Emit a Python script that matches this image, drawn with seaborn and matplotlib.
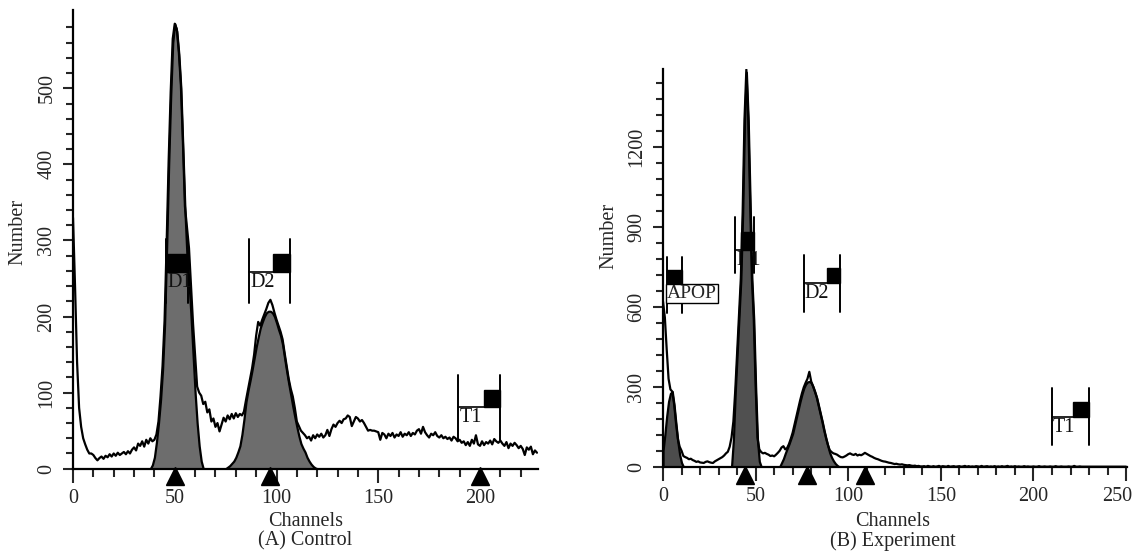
import numpy as np
import pandas as pd
import matplotlib
matplotlib.use("Agg")
import matplotlib.pyplot as plt
import matplotlib.transforms as mtransforms
from matplotlib.patches import Rectangle
from matplotlib.ticker import MultipleLocator, FixedLocator
import seaborn as sns

sns.set_style("white")
plt.rcParams["font.family"] = ["Liberation Serif", "DejaVu Serif"]

# ---------------- data: (A) Control ----------------
ctrl_raw = [
    330, 240, 140, 80, 55, 40, 32, 25, 20, 20,
    18, 14, 11, 14, 16, 13, 17, 15, 19, 16,
    20, 17, 21, 18, 20, 22, 19, 23, 20, 25,
    28, 24, 33, 30, 36, 29, 38, 33, 40, 36,
    38, 45, 62, 95, 135, 195, 295, 405, 495, 565,
    585, 578, 548, 505, 430, 345, 318, 290, 240, 190,
    150, 108, 100, 96, 85, 88, 74, 78, 62, 66,
    55, 60, 49, 58, 67, 62, 70, 65, 72, 66,
    73, 68, 72, 70, 75, 90, 104, 118, 132, 150,
    175, 193, 188, 196, 203, 210, 218, 222, 215, 205,
    196, 188, 180, 170, 152, 135, 118, 105, 95, 80,
    62, 56, 50, 47, 44, 40, 42, 37, 44, 40,
    45, 42, 46, 41, 44, 51, 43, 52, 58, 55,
    60, 63, 60, 65, 66, 70, 68, 56, 62, 68,
    66, 62, 64, 60, 55, 50, 51, 50, 50, 49,
    48, 38, 47, 45, 40, 46, 43, 47, 41, 45,
    43, 48, 42, 46, 44, 48, 43, 47, 45, 50,
    52, 46, 55, 48, 44, 41, 46, 44, 48, 43,
    41, 44, 40, 42, 39, 41, 37, 42, 40, 36,
    38, 34, 36, 31, 35, 30, 38, 33, 44, 32,
    30, 36, 31, 35, 33, 37, 32, 39, 36, 34,
    37, 33, 30, 35, 27, 33, 30, 34, 31, 27,
    30, 26, 18, 28, 25, 29, 19, 24, 21,
]
ctrl_g1_start = 38
ctrl_g1_fill = [0, 5, 15, 35, 60, 90, 130, 190, 290, 400, 490, 560, 585, 575,
                545, 500, 420, 340, 280, 245, 200, 150, 100, 60, 30, 10, 0]
ctrl_g2_start = 75
ctrl_g2_fill = [0, 2, 4, 7, 10, 15, 22, 30, 45, 65, 88, 103, 116, 130, 145, 160,
                173, 185, 193, 200, 205, 207, 207, 205, 200, 192, 183, 175, 163,
                145, 128, 112, 97, 82, 68, 55, 43, 33, 27, 22, 15, 10, 6, 3, 1, 0]
ctrl_peak_marks = [50, 97, 200]
ctrl_yticks = [0, 100, 200, 300, 400, 500]
ctrl_yminor_top = 580
ctrl_gate_names = ["D1", "D2", "T1"]
ctrl_gate_lo = [45.7, 86.6, 189.3]
ctrl_gate_hi = [56.5, 106.6, 209.8]
ctrl_gate_bottom = [218, 218, 38]
ctrl_gate_top = [302, 302, 123]
ctrl_gate_bar = [259, 259, 81]
ctrl_gate_box_top = [282, 282, 103]
ctrl_gate_box_lo = [45.7, 98.1, 202.0]

# ---------------- data: (B) Experiment ----------------
exp_raw = [
    620, 560, 440, 330, 290, 282, 235, 165, 105, 75,
    60, 40, 36, 33, 28, 30, 25, 22, 18, 20,
    16, 15, 14, 18, 20, 17, 15, 14, 20, 24,
    28, 32, 36, 42, 50, 56, 75, 110, 170, 285,
    425, 565, 705, 955, 1305, 1490, 1310, 1005, 705, 555,
    305, 110, 65, 55, 50, 52, 48, 45, 40, 42,
    39, 45, 52, 60, 72, 77, 65, 70, 85, 105,
    128, 158, 188, 218, 248, 275, 298, 315, 330, 356,
    320, 302, 282, 260, 230, 200, 170, 137, 108, 82,
    62, 55, 50, 48, 45, 40, 36, 35, 38, 42,
    47, 50, 46, 44, 48, 42, 45, 43, 47, 52,
    48, 44, 40, 37, 33, 30, 28, 25, 22, 20,
    19, 17, 15, 14, 12, 10, 11, 9, 8, 9,
    7, 6, 5, 6, 4, 3, 4, 2, 3, 1,
    1, 2, 0, 3, 1, 0, 2, 0, 1, 3,
    0, 2, 1, 0, 3, 0, 1, 2, 0, 1,
    2, 0, 1, 3, 0, 2, 0, 1, 0, 2,
    1, 0, 3, 0, 1, 2, 0, 1, 0, 2,
    0, 1, 0, 2, 0, 1, 3, 0, 1, 0,
    2, 0, 1, 0, 0, 2, 0, 1, 0, 0,
    1, 0, 0, 2, 0, 0, 1, 0, 0, 1,
    0, 0, 2, 0, 0, 1, 0, 0, 0, 1,
    0, 0, 3, 0, 0, 1, 0, 0, 0, 0,
    0, 0, 0, 0, 0, 0, 0, 0, 0, 0,
    0, 0, 0, 0, 0, 0, 0, 0, 0, 0,
    0,
]
exp_apop_start = 0
exp_apop_fill = [60, 120, 190, 245, 275, 282, 230, 160, 95, 45, 15, 0]
exp_g1_start = 37
exp_g1_fill = [0, 100, 280, 420, 560, 700, 950, 1300, 1480, 1300, 1000, 700,
               550, 300, 100, 20, 0]
exp_g2_start = 63
exp_g2_fill = [0, 15, 30, 50, 68, 85, 105, 125, 155, 185, 215, 245, 272, 295,
               310, 318, 320, 315, 300, 280, 258, 228, 198, 168, 135, 105, 78,
               52, 35, 22, 12, 5, 0]
exp_peak_marks = [44, 78, 109]
exp_yticks = [0, 300, 600, 900, 1200]
exp_yminor_top = 1440
exp_gate_names = ["APOP", "D1", "D2", "T1"]
exp_gate_lo = [2.0, 38.8, 76.0, 209.9]
exp_gate_hi = [10.1, 49.0, 95.4, 230.2]
exp_gate_bottom = [575, 725, 581, 81]
exp_gate_top = [787, 937, 794, 294]
exp_gate_bar = [681, 812, 688, 187]
exp_gate_box_top = [737, 881, 744, 244]
exp_gate_box_lo = [2.0, 41.9, 88.4, 221.6]

W, H = 1136, 556
fig = plt.figure(figsize=(W / 100, H / 100), dpi=100)


def fx(px):
    return px / W


def fy(py):
    return 1 - py / H


axA = fig.add_axes([fx(73), fy(468.7), fx(538) - fx(73), fy(10) - fy(468.7)])
axB = fig.add_axes([fx(663), fy(466.7), fx(1127) - fx(663), fy(69) - fy(466.7)])

TICK_FS = 14.5
LAB_FS = 14.5


def draw_fill(ax, start, vals, color):
    ch = np.arange(start, start + len(vals))
    ax.fill_between(ch, 0, vals, facecolor=color, edgecolor="black",
                    linewidth=1.6, zorder=2)


def draw_gates(ax, names, lo, hi, bottom, top, bar, box_top, box_lo, tz):
    for n, a, b, y0, y1, yb, yt, bl in zip(names, lo, hi, bottom, top, bar,
                                           box_top, box_lo):
        ax.plot([a, a], [y0, y1], color="black", lw=1.4, zorder=4)
        ax.plot([b, b], [y0, y1], color="black", lw=1.4, zorder=4)
        ax.plot([a, b], [yb, yb], color="black", lw=1.2, zorder=4)
        ax.add_patch(Rectangle((bl, yb), b - bl, yt - yb, facecolor="black",
                               edgecolor="black", zorder=4))
        if n == "APOP":
            ax.text(a + 0.3, yb, n, fontsize=LAB_FS - 0.5, va="top", ha="left",
                    zorder=5,
                    bbox=dict(boxstyle="square,pad=0.05", facecolor="white",
                              edgecolor="black", linewidth=1.0))
        else:
            ax.text(a + 0.6, yb - (y1 - y0) * 0.02, n, fontsize=LAB_FS,
                    va="top", ha="left", zorder=(tz if n == "D1" else 5),
                    color="#111111")


def style_axes(ax, xmax, ymax, xmajor, yticks, yminor, yminor_top, tri_y,
               marks):
    ax.set_xlim(0, xmax)
    ax.set_ylim(0, ymax)
    for s in ["top", "right"]:
        ax.spines[s].set_visible(False)
    for s in ["left", "bottom"]:
        ax.spines[s].set_linewidth(1.6)
        ax.spines[s].set_color("black")
    ax.xaxis.set_major_locator(MultipleLocator(xmajor))
    ax.xaxis.set_minor_locator(MultipleLocator(10))
    ax.yaxis.set_major_locator(FixedLocator(yticks))
    ax.yaxis.set_minor_locator(FixedLocator(np.arange(0, yminor_top + 1, yminor)))
    ax.tick_params(axis="x", which="major", direction="out", length=10,
                   width=1.5, pad=4.5, labelsize=TICK_FS, bottom=True)
    ax.tick_params(axis="x", which="minor", direction="out", length=6,
                   width=1.5, bottom=True)
    ax.tick_params(axis="y", which="major", direction="out", length=7,
                   width=1.5, pad=5, labelsize=TICK_FS, left=True)
    ax.tick_params(axis="y", which="minor", direction="out", length=5,
                   width=1.5, left=True)
    for lab in ax.get_yticklabels():
        lab.set_rotation(90)
        lab.set_va("center")
    ax.set_xlabel("")
    ax.set_ylabel("")
    trans = mtransforms.blended_transform_factory(ax.transData, ax.transAxes)
    ax.plot(marks, [tri_y] * len(marks), marker="^", markersize=13,
            color="black", linestyle="none", transform=trans, clip_on=False,
            zorder=6)


# ---- Panel A ----
dfA = pd.DataFrame({"Channels": np.arange(len(ctrl_raw)), "Number": ctrl_raw})
draw_fill(axA, ctrl_g1_start, ctrl_g1_fill, "#6d6d6d")
draw_fill(axA, ctrl_g2_start, ctrl_g2_fill, "#6d6d6d")
draw_gates(axA, ctrl_gate_names, ctrl_gate_lo, ctrl_gate_hi, ctrl_gate_bottom,
           ctrl_gate_top, ctrl_gate_bar, ctrl_gate_box_top, ctrl_gate_box_lo, 5)
sns.lineplot(data=dfA, x="Channels", y="Number", ax=axA, color="black",
             linewidth=1.6, zorder=3)
style_axes(axA, 228.5, 603, 50, ctrl_yticks, 20, ctrl_yminor_top, -0.017,
           ctrl_peak_marks)

# ---- Panel B ----
dfB = pd.DataFrame({"Channels": np.arange(len(exp_raw)), "Number": exp_raw})
draw_fill(axB, exp_apop_start, exp_apop_fill, "#4c4c4c")
draw_fill(axB, exp_g1_start, exp_g1_fill, "#505050")
draw_fill(axB, exp_g2_start, exp_g2_fill, "#5c5c5c")
draw_gates(axB, exp_gate_names, exp_gate_lo, exp_gate_hi, exp_gate_bottom,
           exp_gate_top, exp_gate_bar, exp_gate_box_top, exp_gate_box_lo, 1.5)
sns.lineplot(data=dfB, x="Channels", y="Number", ax=axB, color="black",
             linewidth=1.6, zorder=3)
style_axes(axB, 250.5, 1492, 50, exp_yticks, 60, exp_yminor_top, -0.02,
           exp_peak_marks)
fig.canvas.draw()
for lab in axB.get_xticklabels():
    if lab.get_text() == "250":
        lab.set_ha("right")
        lab.set_transform(lab.get_transform() +
                          mtransforms.ScaledTranslation(6 / 100, 0,
                                                        fig.dpi_scale_trans))

# ---- labels ----
fig.text(fx(17.5), fy(232), "Number", rotation=90, ha="center", va="center",
         fontsize=LAB_FS)
fig.text(fx(609), fy(236), "Number", rotation=90, ha="center", va="center",
         fontsize=LAB_FS)
fig.text(fx(305.5), fy(521), "Channels", ha="center", va="center",
         fontsize=LAB_FS)
fig.text(fx(305.5), fy(541), "(A) Control", ha="center", va="center",
         fontsize=LAB_FS)
fig.text(fx(893), fy(521), "Channels", ha="center", va="center",
         fontsize=LAB_FS)
fig.text(fx(893), fy(541), "(B) Experiment", ha="center", va="center",
         fontsize=LAB_FS)

fig.savefig("out.png", dpi=100, facecolor="white")
